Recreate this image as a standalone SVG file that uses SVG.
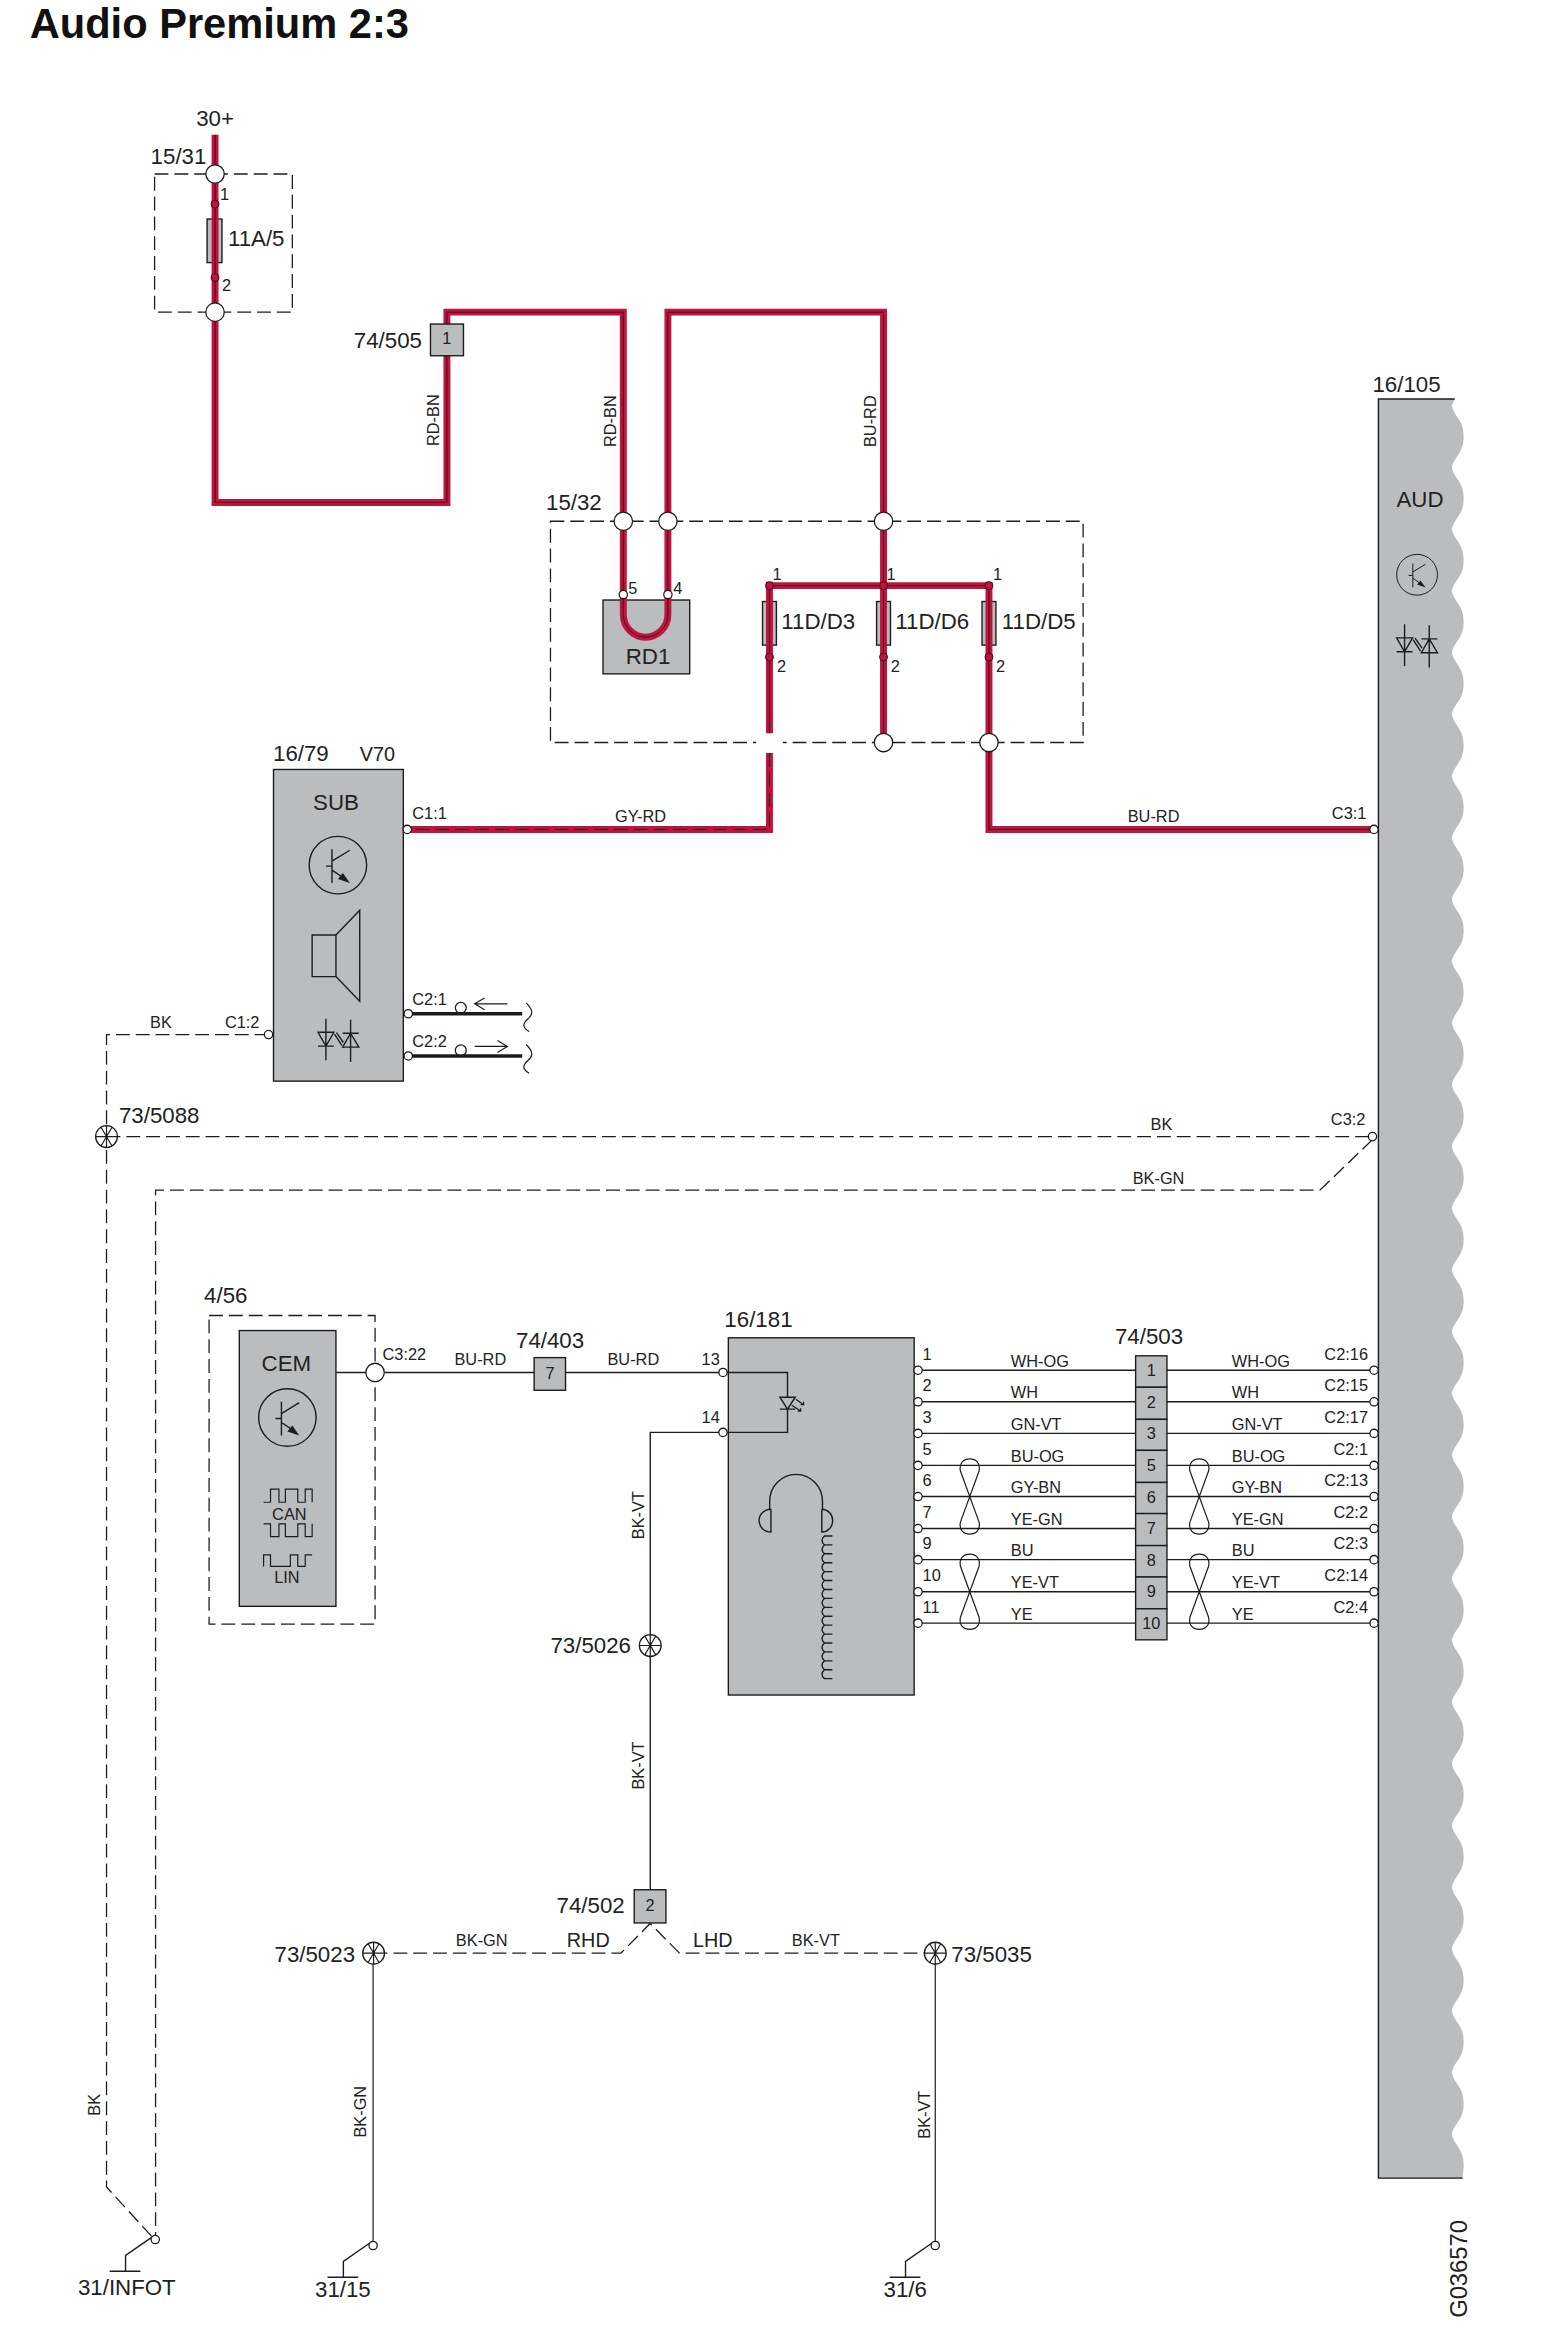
<svg xmlns="http://www.w3.org/2000/svg" width="1550" height="2350" viewBox="0 0 1550 2350">
<style>
text{font-family:"Liberation Sans",Arial,sans-serif;fill:#222;font-size:16.5px}
text:not([transform]){transform:translateY(-1.5px)}
.t{font-size:22.5px}
.m{text-anchor:middle}
.e{text-anchor:end}
.ln{fill:none;stroke:#1c1c1c;stroke-width:1.4}
.thin{fill:none;stroke:#1c1c1c;stroke-width:1.2}
.d{fill:none;stroke:#1c1c1c;stroke-width:1.3;stroke-dasharray:14 6}
.box{fill:#bbbcbe;stroke:#1c1c1c;stroke-width:1.4}
.red{fill:none;stroke:#c0143f;stroke-width:7;stroke-linejoin:miter}
.core{fill:none;stroke:#3c0a18;stroke-width:1}
.coredash{fill:none;stroke:#1c1c1c;stroke-width:1;stroke-dasharray:14 6}
.thick{fill:none;stroke:#1c1c1c;stroke-width:3.5}
.o{fill:#fff;stroke:#1c1c1c;stroke-width:1.3}
.dot{fill:#c0143f;stroke:#3c0a18;stroke-width:1}
</style>
<defs>
<g id="term"><circle class="o" r="9.3"/></g>
<g id="pin"><circle class="o" r="4.2"/></g>
<g id="dotpin"><circle class="dot" r="4"/></g>
<g id="splice"><circle r="11" fill="#fff" stroke="#1c1c1c" stroke-width="1.3"/><path class="thin" d="M-11 0H11M-5.500-9.500L5.500 9.500M-5.500 9.500L5.500-9.500M0-11V11"/></g>
<g id="transistor"><circle class="ln" r="29"/><path class="ln" d="M-6-16V18M-12 1H-6M-6-4L12-15M-6 5L6 13"/><path fill="#1c1c1c" d="M12 18L0 14L5 8Z"/></g>
<g id="opto"><path class="ln" d="M-20.600-8.300H-4.600L-12.600 5.700ZM-20.600 5.700H-4.600M-12.600-22V20M4.300 6.700H20.600L12.300-7.300ZM4.300-7.300H20.600M12.300-21V21.700M-4-6.500L3.500 5M-2-8L5 2"/></g>
<g id="twist"><path class="thin" d="M-9.500-26C-11-34-6-38 0-38C6-38 11-34 9.500-26L-9.500 26C-11 34-6 38 0 38C6 38 11 34 9.500 26Z"/></g>
<g id="ground"><path class="ln" d="M-4-2L-30 16V32M-46 32H-15"/></g>
</defs>
<g transform="scale(.99095)">

<text x="30" y="39.500" style="font-size:42px;font-weight:bold;fill:#111">Audio Premium 2:3</text>

<g id="aud-16-105">
<path fill="#bbbcbe" d="M1391 402.600H1468L1465 409.500c3 12 12 14 12 31.150c0 17-9 19-12 31.150c3 12 12 14 12 31.150c0 17-9 19-12 31.150c3 12 12 14 12 31.150c0 17-9 19-12 31.150c3 12 12 14 12 31.150c0 17-9 19-12 31.150c3 12 12 14 12 31.150c0 17-9 19-12 31.150c3 12 12 14 12 31.150c0 17-9 19-12 31.150c3 12 12 14 12 31.150c0 17-9 19-12 31.150c3 12 12 14 12 31.150c0 17-9 19-12 31.150c3 12 12 14 12 31.150c0 17-9 19-12 31.150c3 12 12 14 12 31.150c0 17-9 19-12 31.150c3 12 12 14 12 31.150c0 17-9 19-12 31.150c3 12 12 14 12 31.150c0 17-9 19-12 31.150c3 12 12 14 12 31.150c0 17-9 19-12 31.150c3 12 12 14 12 31.150c0 17-9 19-12 31.150c3 12 12 14 12 31.150c0 17-9 19-12 31.150c3 12 12 14 12 31.150c0 17-9 19-12 31.150c3 12 12 14 12 31.150c0 17-9 19-12 31.150c3 12 12 14 12 31.150c0 17-9 19-12 31.150c3 12 12 14 12 31.150c0 17-9 19-12 31.150c3 12 12 14 12 31.150c0 17-9 19-12 31.150c3 12 12 14 12 31.150c0 17-9 19-12 31.150c3 12 12 14 12 31.150c0 17-9 19-12 31.150c3 12 12 14 12 31.150c0 17-9 19-12 31.150c3 12 12 14 12 31.150c0 17-9 19-12 31.150c3 12 12 14 12 31.150c0 17-9 19-12 31.150c3 12 12 14 12 31.150c0 17-9 19-12 31.150c3 12 12 14 12 31.150c0 17-9 19-12 31.150c3 12 12 14 12 31.150c0 17-9 19-12 31.150c3 12 12 14 12 31.150c0 6-1 9-1 13H1391Z"/>
<path class="ln" d="M1468 402.600H1391V2198H1476"/>
<text class="t" x="1385" y="397">16/105</text>
<text class="t m" x="1433" y="513.500">AUD</text>
<use href="#transistor" transform="translate(1430 580) scale(.71)"/>
<use href="#opto" transform="translate(1430 652)"/>
</g>

<g id="fuse-box-15-31">
<path class="d" d="M156 175.600H295V315H156Z"/>
<rect class="box" x="209" y="221" width="15" height="44"/>
<text class="t" x="152" y="167">15/31</text>
<text class="t" x="230" y="250">11A/5</text>
<text x="222" y="203">1</text>
<text x="224" y="295">2</text>
</g>

<g id="fuse-box-15-32">
<path class="d" d="M555.500 526H1093V749.300H555.500Z"/>
<text class="t" x="551" y="516">15/32</text>
<rect class="box" x="608.500" y="605.500" width="87.500" height="74.500"/>
<text class="t m" x="654" y="672">RD1</text>
<rect class="box" x="769.500" y="607" width="14" height="44"/>
<rect class="box" x="884.600" y="607" width="14" height="44"/>
<rect class="box" x="991" y="607" width="14" height="44"/>
<text class="t" x="788.500" y="636">11D/D3</text>
<text class="t" x="903.500" y="636">11D/D6</text>
<text class="t" x="1011" y="636">11D/D5</text>
<text x="634" y="601">5</text>
<text x="679.500" y="601">4</text>
<text x="779.500" y="587">1</text>
<text x="894.500" y="587">1</text>
<text x="1002" y="587">1</text>
<text x="784" y="680">2</text>
<text x="899" y="680">2</text>
<text x="1005" y="680">2</text>
</g>

<g id="sub-16-79">
<rect class="box" x="276" y="776.500" width="131" height="314.500"/>
<text class="t" x="275.500" y="769">16/79</text>
<text x="363" y="769" style="font-size:20px">V70</text>
<text class="t m" x="339" y="819">SUB</text>
<use href="#transistor" transform="translate(341 873)"/>
<path class="ln" d="M315 943.500H339V985.500H315ZM339 943.500L363 918.500V1010.500L339 985.500"/>
<use href="#opto" transform="translate(341.500 1050)"/>
</g>

<g id="cem-4-56">
<path class="d" d="M211 1327.500H378.500V1639H211Z"/>
<rect class="box" x="241.500" y="1342.700" width="97.500" height="278.300"/>
<text class="t" x="206" y="1316">4/56</text>
<text class="t m" x="289" y="1385">CEM</text>
<use href="#transistor" transform="translate(290 1430.500)"/>
<path class="thin" d="M266 1516H273V1502.700H281.500V1516H288V1502.700H300.500V1516H308V1502.700H315V1516"/>
<text class="m" x="292" y="1535">CAN</text>
<path class="thin" d="M266 1537.700H273V1550.700H281.500V1537.700H288V1550.700H300.500V1537.700H308V1550.700H315V1537.700"/>
<path class="thin" d="M266 1580.700V1569H273V1580.700H293V1569H300.500V1580.700H308V1569H315"/>
<text class="m" x="289.500" y="1599">LIN</text>
</g>

<g id="headset-16-181">
<rect class="box" x="735" y="1350" width="187.500" height="360.500"/>
<text class="t" x="731" y="1341">16/181</text>
<path class="ln" d="M729.600 1385H794.700V1410M794.700 1422V1445.500H729.600"/>
<path class="ln" d="M787 1410H802.500L794.700 1422ZM787 1422H802.500"/>
<path class="thin" d="M803 1412L811 1417.500M808 1417.500H811V1414.500M799 1418L808 1424M805 1424H808V1421"/>
<path class="ln" d="M776.700 1523V1515A26.500 27 0 0 1 830 1515V1523M778 1523V1546A12 11.500 0 0 1 778 1523M829.300 1523V1546A11 11.500 0 0 0 829.300 1523"/>
<path class="ln" d="M840 1550h-8q-5 4.500 0 9h8m-8 0q-5 4.500 0 9h8m-8 0q-5 4.500 0 9h8m-8 0q-5 4.500 0 9h8m-8 0q-5 4.500 0 9h8m-8 0q-5 4.500 0 9h8m-8 0q-5 4.500 0 9h8m-8 0q-5 4.500 0 9h8m-8 0q-5 4.500 0 9h8m-8 0q-5 4.500 0 9h8m-8 0q-5 4.500 0 9h8m-8 0q-5 4.500 0 9h8m-8 0q-5 4.500 0 9h8m-8 0q-5 4.500 0 9h8m-8 0q-5 4.500 0 9h8m-8 0q-5 4.500 0 9h8"/>
</g>

<g id="connectors">
<rect x="763" y="740" width="27" height="20" fill="#fff"/>
<path class="red" d="M217 136V507H451V315H629V620A22.500 23 0 0 0 674 620V315H891.600V749M776.500 587V740M776.500 760V837H412M776.500 591H998M998 587V837H1390"/>
<path class="core" d="M217 136V507H451V315H629V620A22.500 23 0 0 0 674 620V315H891.600V749M776.500 591H998M998 591V837H1390"/>
<path class="core" d="M776.500 591V740"/>
<path class="coredash" d="M776.500 760V837H412"/>
<path class="thick" d="M412 1023H527M412 1065.600H527"/>
<path class="thin" d="M512 1013H479M489 1007L479 1013L489 1019M479 1056H512M502 1050L512 1056L502 1062"/>
<path class="thin" d="M531 1012C537 1018 539 1023 533 1028C527 1033 527 1037 534 1041M531 1054C537 1060 539 1065 533 1070C527 1075 527 1079 534 1083"/>
<path class="d" d="M271 1044H107.500V2207L156 2260"/>
<path class="d" d="M107.500 1147H1385"/>
<path class="d" d="M1385 1150L1332 1201H157V2260"/>
<path class="ln" d="M339 1385H370M388 1385H729.600"/>
<path class="ln" d="M729.600 1445.500H656.200V1907"/>
<path class="ln" d="M926 1382.700H1386M926 1414.600H1386M926 1446.500H1386M926 1478.800H1386M926 1510.200H1386M926 1542.500H1386M926 1573.900H1386M926 1606.300H1386M926 1638H1386"/>
<path class="d" d="M377 1971H626.700L656 1941L685.700 1971H943.800"/>
<path class="thin" d="M376.500 1971V2262M943.800 1971V2262"/>
</g>

<g id="twists">
<use href="#twist" x="978.600" y="1510.200"/>
<use href="#twist" x="978.600" y="1606.300"/>
<use href="#twist" x="1210.200" y="1510.200"/>
<use href="#twist" x="1210.200" y="1606.300"/>
</g>

<g id="wire-labels">
<text x="198" y="128.700" class="t">30+</text>
<text transform="rotate(-90 443.300 424)" class="m" x="443.300" y="424">RD-BN</text>
<text transform="rotate(-90 621.500 425)" class="m" x="621.500" y="425">RD-BN</text>
<text transform="rotate(-90 884 425)" class="m" x="884" y="425">BU-RD</text>
<text x="620.600" y="831">GY-RD</text>
<text x="1138" y="831">BU-RD</text>
<text x="416" y="828">C1:1</text>
<text x="1344" y="828">C3:1</text>
<text x="416" y="1015.700">C2:1</text>
<text x="416" y="1058">C2:2</text>
<text x="151.500" y="1039">BK</text>
<text x="227" y="1039">C1:2</text>
<text x="1161" y="1141.500">BK</text>
<text x="1343" y="1137">C3:2</text>
<text x="1143" y="1196">BK-GN</text>
<text x="386" y="1374">C3:22</text>
<text x="458.600" y="1379">BU-RD</text>
<text x="613" y="1379">BU-RD</text>
<text x="708" y="1379">13</text>
<text x="708" y="1438">14</text>
<text transform="rotate(-90 649.500 1529)" class="m" x="649.500" y="1529">BK-VT</text>
<text transform="rotate(-90 649.500 1781.600)" class="m" x="649.500" y="1781.600">BK-VT</text>
<text x="460" y="1965">BK-GN</text>
<text x="572" y="1966.500" style="font-size:20px">RHD</text>
<text x="699.300" y="1966.500" style="font-size:20px">LHD</text>
<text x="799" y="1965">BK-VT</text>
<text transform="rotate(-90 101 2124)" class="m" x="101" y="2124">BK</text>
<text transform="rotate(-90 369.500 2131)" class="m" x="369.500" y="2131">BK-GN</text>
<text transform="rotate(-90 938.500 2134)" class="m" x="938.500" y="2134">BK-VT</text>
<text x="931" y="1373.700">1</text><text x="931" y="1405.600">2</text><text x="931" y="1437.500">3</text><text x="931" y="1469.800">5</text><text x="931" y="1501.200">6</text><text x="931" y="1533.500">7</text><text x="931" y="1564.900">9</text><text x="931" y="1597.300">10</text><text x="931" y="1629">11</text>
<text x="1020" y="1380.700">WH-OG</text><text x="1020" y="1412.600">WH</text><text x="1020" y="1444.500">GN-VT</text><text x="1020" y="1476.800">BU-OG</text><text x="1020" y="1508.200">GY-BN</text><text x="1020" y="1540.500">YE-GN</text><text x="1020" y="1571.900">BU</text><text x="1020" y="1604.300">YE-VT</text><text x="1020" y="1636">YE</text>
<text x="1243" y="1380.700">WH-OG</text><text x="1243" y="1412.600">WH</text><text x="1243" y="1444.500">GN-VT</text><text x="1243" y="1476.800">BU-OG</text><text x="1243" y="1508.200">GY-BN</text><text x="1243" y="1540.500">YE-GN</text><text x="1243" y="1571.900">BU</text><text x="1243" y="1604.300">YE-VT</text><text x="1243" y="1636">YE</text>
<text class="e" x="1380.500" y="1373.700">C2:16</text><text class="e" x="1380.500" y="1405.600">C2:15</text><text class="e" x="1380.500" y="1437.500">C2:17</text><text class="e" x="1380.500" y="1469.800">C2:1</text><text class="e" x="1380.500" y="1501.200">C2:13</text><text class="e" x="1380.500" y="1533.500">C2:2</text><text class="e" x="1380.500" y="1564.900">C2:3</text><text class="e" x="1380.500" y="1597.300">C2:14</text><text class="e" x="1380.500" y="1629">C2:4</text>
</g>

<g id="conn-74-505">
<rect class="box" x="434.400" y="327" width="33.300" height="32"/>
<text class="m" x="451" y="349">1</text>
<text class="t" x="357" y="352.500">74/505</text>
</g>
<g id="conn-74-403">
<rect class="box" x="539" y="1370" width="31.700" height="33"/>
<text class="m" x="555" y="1393">7</text>
<text class="t" x="520.700" y="1362">74/403</text>
</g>
<g id="conn-74-502">
<rect class="box" x="640" y="1907" width="32" height="33.500"/>
<text class="m" x="656" y="1930">2</text>
<text class="t" x="561.600" y="1931.600">74/502</text>
</g>
<g id="conn-74-503">
<rect class="box" x="1146" y="1368.200" width="31.600" height="31.700"/>
<rect class="box" x="1146" y="1399.900" width="31.600" height="32.400"/>
<rect class="box" x="1146" y="1432.300" width="31.600" height="31.300"/>
<rect class="box" x="1146" y="1463.600" width="31.600" height="32.400"/>
<rect class="box" x="1146" y="1496" width="31.600" height="31.400"/>
<rect class="box" x="1146" y="1527.400" width="31.600" height="32.300"/>
<rect class="box" x="1146" y="1559.700" width="31.600" height="31.700"/>
<rect class="box" x="1146" y="1591.400" width="31.600" height="32.100"/>
<rect class="box" x="1146" y="1623.500" width="31.600" height="31.300"/>
<text class="m" x="1161.800" y="1390">1</text><text class="m" x="1161.800" y="1422">2</text><text class="m" x="1161.800" y="1454">3</text><text class="m" x="1161.800" y="1486">5</text><text class="m" x="1161.800" y="1518">6</text><text class="m" x="1161.800" y="1549.500">7</text><text class="m" x="1161.800" y="1581.500">8</text><text class="m" x="1161.800" y="1613.500">9</text><text class="m" x="1161.800" y="1645">10</text>
<text class="t m" x="1159.500" y="1358">74/503</text>
</g>

<g id="terminals">
<use href="#term" x="217" y="175.600"/><use href="#term" x="217" y="315"/>
<use href="#term" x="629" y="526"/><use href="#term" x="674" y="526"/><use href="#term" x="891.600" y="526"/>
<use href="#term" x="891.600" y="749.300"/><use href="#term" x="998" y="749.300"/><use href="#term" x="378.500" y="1385"/>
<use href="#pin" x="629" y="600"/><use href="#pin" x="674" y="600"/>
<use href="#dotpin" x="217" y="206"/><use href="#dotpin" x="217" y="280"/>
<use href="#dotpin" x="776.500" y="591"/><use href="#dotpin" x="891.600" y="591"/><use href="#dotpin" x="998" y="591"/>
<use href="#dotpin" x="776.500" y="663"/><use href="#dotpin" x="891.600" y="663"/><use href="#dotpin" x="998" y="663"/>
<use href="#pin" x="411" y="837"/><use href="#pin" x="412" y="1023"/><use href="#pin" x="412" y="1065.600"/><use href="#pin" x="271" y="1044"/>
<use href="#pin" x="1386.500" y="837"/><use href="#pin" x="1385" y="1147"/>
<use href="#pin" x="729.600" y="1385"/><use href="#pin" x="729.600" y="1445.500"/>
<use href="#pin" x="926.400" y="1382.700"/><use href="#pin" x="926.400" y="1414.600"/><use href="#pin" x="926.400" y="1446.500"/><use href="#pin" x="926.400" y="1478.800"/><use href="#pin" x="926.400" y="1510.200"/><use href="#pin" x="926.400" y="1542.500"/><use href="#pin" x="926.400" y="1573.900"/><use href="#pin" x="926.400" y="1606.300"/><use href="#pin" x="926.400" y="1638"/>
<use href="#pin" x="1386.600" y="1382.700"/><use href="#pin" x="1386.600" y="1414.600"/><use href="#pin" x="1386.600" y="1446.500"/><use href="#pin" x="1386.600" y="1478.800"/><use href="#pin" x="1386.600" y="1510.200"/><use href="#pin" x="1386.600" y="1542.500"/><use href="#pin" x="1386.600" y="1573.900"/><use href="#pin" x="1386.600" y="1606.300"/><use href="#pin" x="1386.600" y="1638"/>
<circle class="o" cx="465" cy="1017" r="5.500" style="fill:none"/><circle class="o" cx="465" cy="1060" r="5.500" style="fill:none"/>
</g>

<g id="splice-73-5088"><use href="#splice" x="107.500" y="1147"/><text class="t" x="120" y="1135">73/5088</text></g>
<g id="splice-73-5026"><use href="#splice" x="656.200" y="1660.500"/><text class="t" x="555.500" y="1669.600">73/5026</text></g>
<g id="splice-73-5023"><use href="#splice" x="377" y="1971"/><text class="t" x="277" y="1981">73/5023</text></g>
<g id="splice-73-5035"><use href="#splice" x="943.800" y="1971"/><text class="t" x="960" y="1981">73/5035</text></g>

<g id="ground-31-infot"><use href="#ground" x="156.700" y="2260"/><use href="#pin" x="156.700" y="2260"/><text class="t m" x="128" y="2317">31/INFOT</text></g>
<g id="ground-31-15"><use href="#ground" x="376.500" y="2266"/><use href="#pin" x="376.500" y="2266"/><text class="t m" x="346" y="2319">31/15</text></g>
<g id="ground-31-6"><use href="#ground" x="943.800" y="2266"/><use href="#pin" x="943.800" y="2266"/><text class="t m" x="913.500" y="2319">31/6</text></g>

<text transform="rotate(-90 1480 2339)" x="1480" y="2339" style="font-size:24px">G036570</text>
</g>
</svg>
